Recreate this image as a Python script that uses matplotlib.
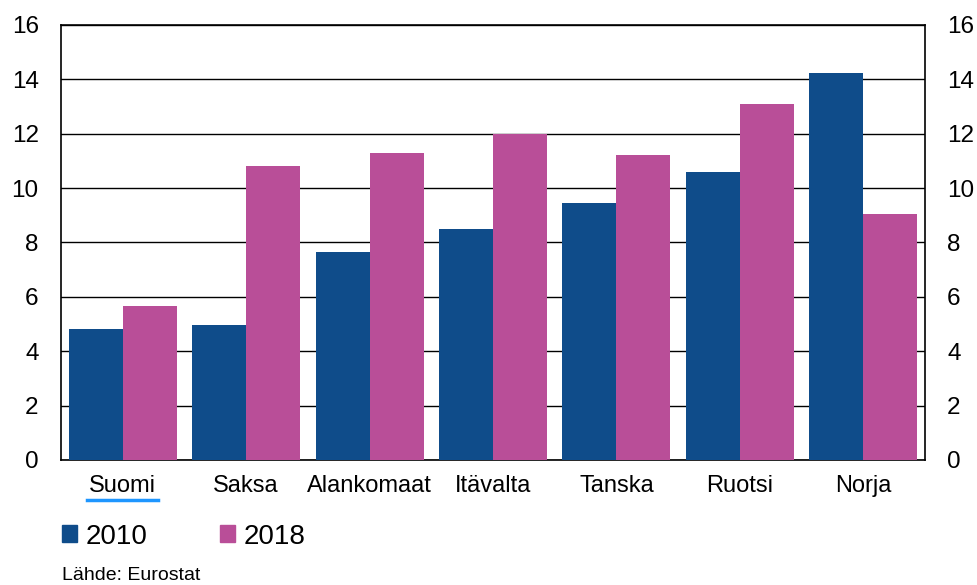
import numpy as np
import matplotlib.pyplot as plt
from matplotlib.patches import Patch
from matplotlib.lines import Line2D

plt.rcParams["font.family"] = ["Liberation Sans", "DejaVu Sans"]

countries = ["Suomi", "Saksa", "Alankomaat", "Itävalta", "Tanska", "Ruotsi", "Norja"]
years = ["2010", "2018"]
values_2010 = [4.8, 4.95, 7.65, 8.5, 9.45, 10.6, 14.25]
values_2018 = [5.65, 10.8, 11.3, 12.0, 11.2, 13.1, 9.05]

blue = "#0f4c8a"
magenta = "#b94e98"

fig = plt.figure(figsize=(9.77, 5.85), dpi=100)
ax = fig.add_axes([0.0624, 0.2137, 0.8844, 0.7436])

x = np.arange(len(countries))
w = 0.4375
ax.bar(x - w / 2, values_2010, w, color=blue, zorder=3)
ax.bar(x + w / 2, values_2018, w, color=magenta, zorder=3)

ax.set_xlim(-0.5, len(countries) - 0.5)
ax.set_ylim(0, 16)
ax.set_yticks(np.arange(0, 17, 2))
ax.yaxis.grid(True, color="black", linewidth=1, zorder=0)
ax.tick_params(axis="y", length=0, labelsize=17.5, pad=16, right=True, labelright=True)
ax.set_xticks(x)
ax.set_xticklabels(countries)
ax.tick_params(axis="x", length=0, labelsize=17, pad=11)
for s in ax.spines.values():
    s.set_linewidth(1.2)
    s.set_color("black")

handles = [Patch(color=blue), Patch(color=magenta)]
fig.legend(handles, years, loc="upper left", bbox_to_anchor=(0.052, 0.124),
           ncol=2, frameon=False, fontsize=20, handlelength=0.55, handleheight=0.55,
           handletextpad=0.3, columnspacing=2.6, borderaxespad=0)

fig.text(0.0635, 0.002, "Lähde: Eurostat", fontsize=14, ha="left", va="bottom")

# blue underline under "Suomi"
fig.canvas.draw()
bb = ax.get_xticklabels()[0].get_window_extent().transformed(fig.transFigure.inverted())
fig.add_artist(Line2D([bb.x0 - 0.002, bb.x1 + 0.002], [bb.y0 - 0.004, bb.y0 - 0.004],
                      color="#1e96ff", linewidth=2.5, transform=fig.transFigure))

plt.savefig("out.png")
